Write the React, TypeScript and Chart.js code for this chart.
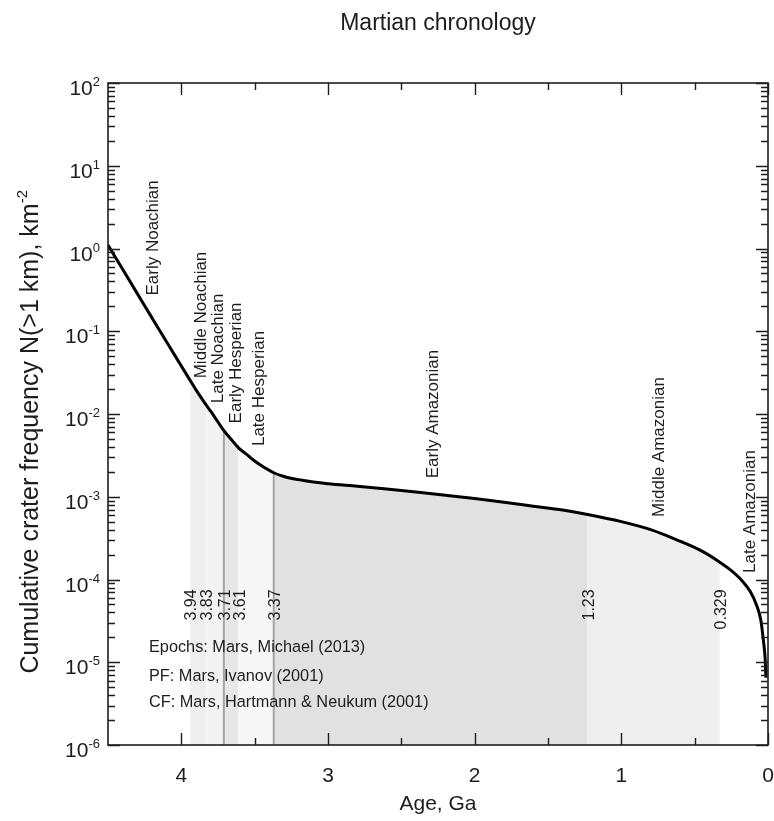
import React, { useEffect, useRef } from "react";
import { Chart, registerables } from "chart.js";

Chart.register(...registerables);

// Crater chronology: age (Ga) vs cumulative crater frequency N(>1 km), km^-2
const ages = [
  4.5, 4.4, 4.3, 4.2, 4.1, 4.0, 3.94, 3.9, 3.83, 3.8, 3.75, 3.71, 3.65, 3.61, 3.55, 3.5,
  3.45, 3.4, 3.37, 3.3, 3.2, 3.1, 3.0, 2.8, 2.6, 2.4, 2.2, 2.0, 1.8, 1.6, 1.4, 1.23, 1.0,
  0.8, 0.6, 0.45, 0.329, 0.25, 0.18, 0.12, 0.08, 0.05, 0.03, 0.02, 0.014,
];
const density = [
  1.1, 0.56, 0.285, 0.145, 0.074, 0.038, 0.0255, 0.0196, 0.0128, 0.0108, 0.008, 0.0063,
  0.0047, 0.0039, 0.0032, 0.0027, 0.00235, 0.00208, 0.00195, 0.00176, 0.00161, 0.00151,
  0.00144, 0.00134, 0.00124, 0.00114, 0.00104, 0.00095, 0.00086, 0.00077, 0.00069,
  0.00061, 0.0005, 0.0004, 0.00029, 0.00022, 0.000162, 0.000128, 0.000098, 0.000071,
  0.00005, 0.000033, 0.0000175, 0.0000115, 0.0000065,
];

// Epochs (Michael 2013): older and younger bounds in Ga
const epochNames = [
  "Early Noachian", "Middle Noachian", "Late Noachian", "Early Hesperian",
  "Late Hesperian", "Early Amazonian", "Middle Amazonian", "Late Amazonian",
];
const epochOlder = [4.5, 3.94, 3.83, 3.71, 3.61, 3.37, 1.23, 0.329];
const epochYounger = [3.94, 3.83, 3.71, 3.61, 3.37, 1.23, 0.329, 0];
// Boundaries marked with a grey vertical line
const markedBoundaries = [3.71, 3.37];

const sourceNotes = [
  "Epochs: Mars, Michael (2013)",
  "PF: Mars, Ivanov (2001)",
  "CF: Mars, Hartmann & Neukum (2001)",
];

const xTickValues = [4, 3, 2, 1, 0];
const yTickExponents = [2, 1, 0, -1, -2, -3, -4, -5, -6];

// ---- styling / layout ----
const FONT = '"Liberation Sans", Arial, Helvetica, sans-serif';
const INK = "#1d1d1d";
const epochShades = ["#ffffff", "#eeeeee", "#f3f3f3", "#e7e7e7", "#f7f7f7", "#e1e1e1", "#efefef", "#ffffff"];
// epoch name anchors: age of text column, density at start of text
const epochLabelAge = [4.2, 3.876, 3.755, 3.637, 3.474, 2.291, 0.752, 0.13];
const epochLabelBase = [0.27, 0.027, 0.0135, 0.0077, 0.0041, 0.00167, 0.00057, 0.00012];
const boundaryLabelTop = 7.6e-5;

const yMin = 1e-6;
const yMax = 100;

const points = ages.map((a, i) => ({ x: a, y: density[i] }));

const decorations = {
  id: "decorations",
  afterDatasetsDraw(chart: any) {
    const { ctx, chartArea: a, scales } = chart;
    const xs = scales.x;
    const ys = scales.y;
    ctx.save();
    ctx.fillStyle = INK;
    ctx.strokeStyle = INK;

    const rotated = (text: string, px: number, py: number, align: CanvasTextAlign) => {
      ctx.save();
      ctx.translate(px, py);
      ctx.rotate(-Math.PI / 2);
      ctx.textAlign = align;
      ctx.textBaseline = "alphabetic";
      ctx.fillText(text, 0, 0);
      ctx.restore();
    };

    // epoch names
    ctx.font = `17px ${FONT}`;
    epochNames.forEach((name, i) => {
      rotated(name, xs.getPixelForValue(epochLabelAge[i]) + 6, ys.getPixelForValue(epochLabelBase[i]), "left");
    });

    // boundary ages
    ctx.font = `16px ${FONT}`;
    epochYounger.slice(0, -1).forEach((b) => {
      rotated(String(b), xs.getPixelForValue(b) + 6, ys.getPixelForValue(boundaryLabelTop), "right");
    });

    // source notes
    ctx.font = `16.3px ${FONT}`;
    ctx.textAlign = "left";
    ctx.textBaseline = "middle";
    const noteY = [a.bottom - 97, a.bottom - 68, a.bottom - 42];
    sourceNotes.forEach((t, i) => ctx.fillText(t, a.left + 41, noteY[i]));

    // frame
    ctx.lineWidth = 1.6;
    ctx.strokeRect(a.left, a.top, a.right - a.left, a.bottom - a.top);

    // ticks (inward on all four sides)
    ctx.lineWidth = 1.4;
    const MAJ = 12;
    const MIN = 7;
    ctx.beginPath();
    const xTick = (v: number, len: number) => {
      const px = Math.round(xs.getPixelForValue(v)) + 0.5;
      ctx.moveTo(px, a.bottom);
      ctx.lineTo(px, a.bottom - len);
      ctx.moveTo(px, a.top);
      ctx.lineTo(px, a.top + len);
    };
    const yTick = (v: number, len: number) => {
      const py = Math.round(ys.getPixelForValue(v)) + 0.5;
      ctx.moveTo(a.left, py);
      ctx.lineTo(a.left + len, py);
      ctx.moveTo(a.right, py);
      ctx.lineTo(a.right - len, py);
    };
    xTickValues.forEach((v) => xTick(v, MAJ));
    for (let i = 0; i < xTickValues.length - 1; i++) xTick((xTickValues[i] + xTickValues[i + 1]) / 2, MIN);
    yTickExponents.forEach((e) => {
      yTick(Math.pow(10, e), MAJ);
      if (e < yTickExponents[0]) for (let k = 2; k <= 9; k++) yTick(k * Math.pow(10, e), MIN);
    });
    ctx.stroke();

    // x tick labels
    ctx.font = `21px ${FONT}`;
    ctx.textAlign = "center";
    ctx.textBaseline = "alphabetic";
    xTickValues.forEach((v) => ctx.fillText(String(v), xs.getPixelForValue(v), a.bottom + 37));

    // y tick labels with superscript exponents
    yTickExponents.forEach((e) => {
      const py = ys.getPixelForValue(Math.pow(10, e));
      const right = a.left - 8;
      ctx.font = `13px ${FONT}`;
      const es = String(e);
      const ew = ctx.measureText(es).width;
      ctx.textAlign = "left";
      ctx.fillText(es, right - ew, py + 3);
      ctx.font = `21px ${FONT}`;
      ctx.textAlign = "right";
      ctx.fillText("10", right - ew, py + 12);
    });

    // axis titles
    const cx = (a.left + a.right) / 2;
    ctx.font = `21px ${FONT}`;
    ctx.textAlign = "center";
    ctx.fillText("Age, Ga", cx, a.bottom + 65);
    ctx.font = `23px ${FONT}`;
    ctx.fillText("Martian chronology", cx, 30);

    // y title with superscript
    ctx.save();
    ctx.translate(38, 190);
    ctx.rotate(-Math.PI / 2);
    ctx.textBaseline = "alphabetic";
    ctx.textAlign = "left";
    const main = "Cumulative crater frequency N(>1 km), km";
    ctx.font = `15px ${FONT}`;
    const sup = "-2";
    const sw = ctx.measureText(sup).width;
    ctx.font = `25px ${FONT}`;
    const mw = ctx.measureText(main).width;
    ctx.fillText(main, -(mw + sw), 0);
    ctx.font = `15px ${FONT}`;
    ctx.fillText(sup, -sw, -11);
    ctx.restore();

    ctx.restore();
  },
};

export default function App() {
  const ref = useRef<HTMLCanvasElement | null>(null);

  useEffect(() => {
    document.body.style.margin = "0";
    const canvas = ref.current;
    if (!canvas) return;

    const fills = epochNames
      .map((name, i) => ({ name, i }))
      .filter(({ i }) => epochShades[i] !== "#ffffff")
      .map(({ name, i }) => ({
        label: name,
        data: points.filter((p) => p.x <= epochOlder[i] && p.x >= epochYounger[i]),
        backgroundColor: epochShades[i],
        borderColor: "rgba(0,0,0,0)",
        borderWidth: 0,
        fill: "start",
        pointRadius: 0,
        cubicInterpolationMode: "monotone",
        order: 3,
      }));

    const lines = markedBoundaries.map((b) => ({
      label: `boundary ${b}`,
      data: [
        { x: b, y: yMin },
        { x: b, y: density[ages.indexOf(b)] },
      ],
      borderColor: "#a4a4a4",
      borderWidth: 2,
      fill: false,
      pointRadius: 0,
      order: 2,
    }));

    const chart = new Chart(canvas, {
      type: "line",
      data: {
        datasets: [
          {
            label: "N(>1 km)",
            data: points,
            borderColor: "#000000",
            borderWidth: 3,
            fill: false,
            pointRadius: 0,
            cubicInterpolationMode: "monotone",
            order: 0,
          },
          ...lines,
          ...fills,
        ] as any,
      },
      options: {
        animation: false,
        responsive: false,
        maintainAspectRatio: false,
        layout: { padding: { left: 108, right: 6, top: 83, bottom: 76 } },
        scales: {
          x: { type: "linear", min: 0, max: 4.5, reverse: true, display: false },
          y: { type: "logarithmic", min: yMin, max: yMax, display: false },
        },
        plugins: {
          legend: { display: false },
          tooltip: { enabled: false },
          title: { display: false },
        },
      },
      plugins: [decorations],
    });
    return () => chart.destroy();
  }, []);

  return (
    <div style={{ width: 774, height: 821, overflow: "hidden", background: "#fff" }}>
      <canvas ref={ref} width={774} height={821} style={{ display: "block" }} />
    </div>
  );
}
